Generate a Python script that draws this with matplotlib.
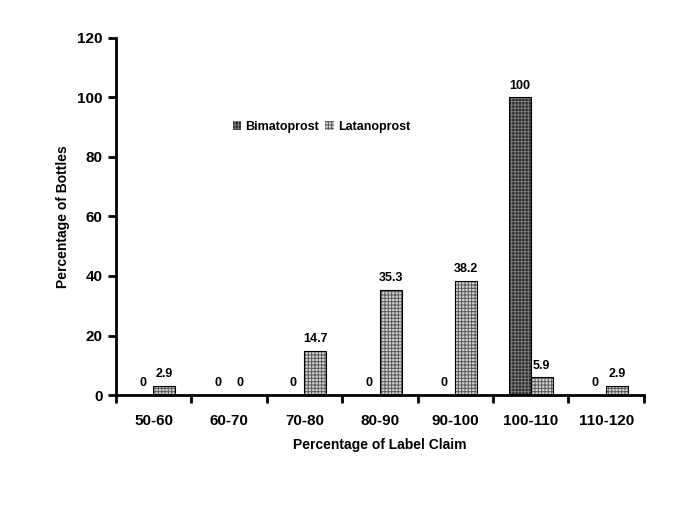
import numpy as np
import matplotlib
matplotlib.use('Agg')
import matplotlib.pyplot as plt

plt.rcParams['font.family'] = ['Liberation Sans', 'DejaVu Sans']
plt.rcParams['hatch.linewidth'] = 0.7

categories = ['50-60', '60-70', '70-80', '80-90', '90-100', '100-110', '110-120']
bimatoprost = [0, 0, 0, 0, 0, 100, 0]
latanoprost = [2.9, 0, 14.7, 35.3, 38.2, 5.9, 2.9]
bim_labels = ['0', '0', '0', '0', '0', '100', '0']
lat_labels = ['2.9', '0', '14.7', '35.3', '38.2', '5.9', '2.9']

fig = plt.figure(figsize=(6.85, 5.13), dpi=100)
ax = fig.add_axes([0.169, 0.230, 0.771, 0.696])

x = np.arange(len(categories))
w = 0.29
# filled hatch layer, then a black outline on top
ax.bar(x - w / 2, bimatoprost, w, facecolor='#2a2a2a', edgecolor='#7a7a7a',
       hatch='+++++', linewidth=0)
ax.bar(x + w / 2, latanoprost, w, facecolor='#d2d2d2', edgecolor='#5a5a5a',
       hatch='+++++', linewidth=0)
ax.bar(x - w / 2, bimatoprost, w, fill=False, edgecolor='black', linewidth=0.8)
ax.bar(x + w / 2, latanoprost, w, fill=False, edgecolor='black', linewidth=0.8)

for xi, v, s in zip(x, bimatoprost, bim_labels):
    ax.text(xi - w / 2, v + 2, s, ha='center', va='bottom', fontsize=9, fontweight='bold')
for xi, v, s in zip(x, latanoprost, lat_labels):
    ax.text(xi + w / 2, v + 2, s, ha='center', va='bottom', fontsize=9, fontweight='bold')

ax.set_xlim(-0.5, len(categories) - 0.5)
ax.set_ylim(0, 120)
ax.set_yticks(range(0, 121, 20))
ax.set_xticks(x)
ax.set_xticklabels(categories, fontsize=11, fontweight='bold')
ax.set_xticks(np.arange(-0.5, len(categories), 1.0), minor=True)
ax.tick_params(axis='x', which='major', length=0, pad=14)
ax.tick_params(axis='x', which='minor', length=6, width=2, direction='out')
ax.tick_params(axis='y', length=6, width=2, direction='out', labelsize=11)
for lab in ax.get_yticklabels():
    lab.set_fontweight('bold')

for side in ['top', 'right']:
    ax.spines[side].set_visible(False)
for side in ['left', 'bottom']:
    ax.spines[side].set_linewidth(2)

ax.set_xlabel('Percentage of Label Claim', fontsize=10, fontweight='bold', labelpad=7)
ax.set_ylabel('Percentage of Bottles', fontsize=10, fontweight='bold', labelpad=5)

handles = [
    plt.Rectangle((0, 0), 1, 1, facecolor='#2a2a2a', edgecolor='#7a7a7a', hatch='+++++', linewidth=0),
    plt.Rectangle((0, 0), 1, 1, facecolor='#d2d2d2', edgecolor='#5a5a5a', hatch='+++++', linewidth=0),
]
ax.legend(handles, ['Bimatoprost', 'Latanoprost'], loc='upper left',
          bbox_to_anchor=(0.2, 0.8), ncol=2, frameon=False,
          handlelength=0.7, handleheight=0.7, handletextpad=0.3, columnspacing=0.5,
          prop={'weight': 'bold', 'size': 9})

fig.savefig('out.png', dpi=100)
